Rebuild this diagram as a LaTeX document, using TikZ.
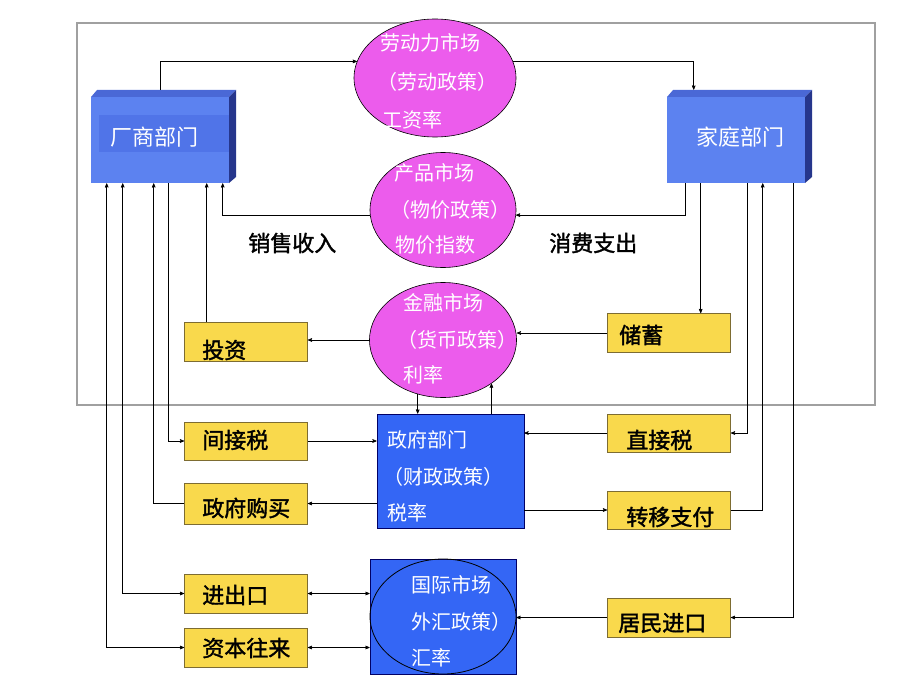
\documentclass[tikz,border=0pt]{standalone}
\usepackage{fontspec}
\newfontfamily\cjk{Noto Sans CJK SC}
\newfontfamily\cjkb[FakeBold=1.6]{Noto Sans CJK SC}
\usetikzlibrary{calc}
\usetikzlibrary{arrows}
\usetikzlibrary{shapes.geometric}

\definecolor{mktpink}{RGB}{236,92,236}
\definecolor{boxyellow}{RGB}{249,217,76}
\definecolor{boxedge}{RGB}{125,108,50}
\definecolor{govblue}{RGB}{52,102,245}
\definecolor{facblue}{RGB}{92,130,240}
\definecolor{bandblue}{RGB}{80,116,232}
\definecolor{topblue}{RGB}{74,104,214}
\definecolor{sideblue}{RGB}{38,54,140}
\definecolor{framegray}{RGB}{160,160,160}

\begin{document}
\begin{tikzpicture}[x=1pt, y=-1pt, >=stealth', line width=0.6pt,
  market/.style={ellipse, fill=mktpink, draw=black, inner sep=0pt},
  face/.style={fill=facblue, inner sep=0pt},
  gbox/.style={rectangle, fill=govblue, draw=black!60!blue, line width=0.8pt, inner sep=0pt},
  ybox/.style={fill=boxyellow, draw=boxedge, line width=0.8pt, minimum width=123, inner sep=0pt},
  wlabel/.style={anchor=west, text=white, inner sep=0pt, font=\cjk\fontsize{20}{20}\selectfont},
  blabel/.style={anchor=west, text=black, inner sep=0pt, font=\cjkb\fontsize{22}{22}\selectfont}]
\useasboundingbox (0,0) rectangle (920,690);
\draw[framegray, line width=2.5pt] (77,23) rectangle (875,405);

% firms and households
\fill[topblue] (91,97) -- (97,90) -- (236,90) -- (229,97) -- cycle;
\fill[sideblue] (229,97) -- (236,90) -- (236,177) -- (229,183) -- cycle;
\node[face, minimum width=138, minimum height=86] (firm) at (160,140) {};
\fill[bandblue] (99,115) rectangle (229,152);
\node[wlabel, font=\cjk\fontsize{22}{22}\selectfont] (tFirm) at (110,137) {厂商部门};
\fill[topblue] (667,97) -- (673,90) -- (812,90) -- (805,97) -- cycle;
\fill[sideblue] (805,97) -- (812,90) -- (812,177) -- (805,183) -- cycle;
\node[face, minimum width=138, minimum height=86] (home) at (736,140) {};
\node[wlabel, font=\cjk\fontsize{22}{22}\selectfont] (tHome) at (696,137) {家庭部门};

% markets
\node[market, minimum width=162, minimum height=118] (labor) at (435,78) {};
\node[wlabel] (tLabA) at (380,43) {劳动力市场};
\node[wlabel] (tLabB) at (377,82) {（劳动政策）};
\node[wlabel] (tLabC) at (382,120) {工资率};
\node[market, minimum width=146, minimum height=115] (product) at (443,210) {};
\node[wlabel] (tProA) at (394,173) {产品市场};
\node[wlabel] (tProB) at (390,210) {（物价政策）};
\node[wlabel] (tProC) at (395,245) {物价指数};
\node[market, minimum width=147, minimum height=115] (finance) at (443,340) {};
\node[wlabel] (tFinA) at (403,303) {金融市场};
\node[wlabel] (tFinB) at (397,340) {（货币政策）};
\node[wlabel] (tFinC) at (403,375) {利率};

% government and foreign sector
\node[gbox, minimum width=147, minimum height=114] (gov) at (450.5,471) {};
\node[wlabel] (tGovA) at (387,440) {政府部门};
\node[wlabel] (tGovB) at (383,477) {（财政政策）};
\node[wlabel] (tGovC) at (387,513) {税率};
\node[gbox, minimum width=146, minimum height=115] (intl) at (443,616.5) {};
\draw[line width=0.8pt] (intl.center) ellipse (73 and 57.5);
\node[wlabel] (tIntA) at (411,585) {国际市场};
\node[wlabel] (tIntB) at (411,622) {外汇政策）};
\node[wlabel] (tIntC) at (411,658) {汇率};

% flows
\node[ybox, minimum height=39] (touzi) at (246,341.5) {};
\node[ybox, minimum height=39] (chuxu) at (669,333) {};
\node[ybox, minimum height=38] (jianjie) at (246,441) {};
\node[ybox, minimum height=41] (goumai) at (246,503.5) {};
\node[ybox, minimum height=38] (zhijie) at (669,433) {};
\node[ybox, minimum height=38] (zhuanyi) at (669,510) {};
\node[ybox, minimum height=39] (jinchu) at (246,593.5) {};
\node[ybox, minimum height=39] (ziben) at (246,647.5) {};
\node[ybox, minimum height=39] (jumin) at (669,617.5) {};
\node[blabel] (tTouzi) at (202,350) {投资};
\node[blabel] (tChuxu) at (619,335) {储蓄};
\node[blabel] (tJianjie) at (202,440) {间接税};
\node[blabel] (tGoumai) at (202,508) {政府购买};
\node[blabel] (tZhijie) at (626,440) {直接税};
\node[blabel] (tZhuanyi) at (626,517) {转移支付};
\node[blabel] (tJinchu) at (202,595) {进出口};
\node[blabel] (tZiben) at (202,648) {资本往来};
\node[blabel] (tJumin) at (618,623) {居民进口};
\node[blabel] (tSales) at (248,243) {销售收入};
\node[blabel] (tSpend) at (549,243) {消费支出};

% line ends under the two sectors
\coordinate (fTop) at ($(firm.north)+(0,-7)$);
\coordinate (hTop) at ($(home.north west)+(27,-7)$);
\foreach \n/\dx in {1/16, 2/32, 3/63, 4/78, 5/116, 6/132}
  \coordinate (f\n) at ($(firm.south west)+(\dx,0)$);
\foreach \n/\dx in {1/19, 2/34, 3/81, 4/96, 5/127}
  \coordinate (h\n) at ($(home.south west)+(\dx,0)$);

% connectors
\draw[->] (fTop) |- (labor.168);
\draw[->] (labor.12) -| (hTop);
\draw[->] (h1) |- (product.-4);
\draw[->] (product.184) -| (f6);
\draw[->] (h2) -- (h2 |- chuxu.north);
\draw[->] (chuxu.west) -- (chuxu.west -| finance.east);
\draw[->] (finance.west) -- (finance.west -| touzi.east);
\draw[->] (touzi.north -| f5) -- (f5);
\draw[->] (finance.245) -- (finance.245 |- gov.north);
\draw[->] (gov.north -| finance.318) -- (finance.318);
\draw[->] (f4) |- (jianjie.west);
\draw[->] (jianjie.east) -- (jianjie.east -| gov.west);
\draw[->] (gov.west |- goumai.east) -- (goumai.east);
\draw[->] (goumai.west) -| (f3);
\draw[->] (zhijie.west) -- (zhijie.west -| gov.east);
\draw[->] (h3) |- (zhijie.east);
\draw[->] (gov.east |- zhuanyi.west) -- (zhuanyi.west);
\draw[->] (zhuanyi.east) -| (h4);
\draw[<->] (f2) |- (jinchu.west);
\draw[<->] (f1) |- (ziben.west);
\draw[<->] (jinchu.east) -- (jinchu.east -| intl.west);
\draw[<->] (ziben.east) -- (ziben.east -| intl.west);
\draw[->] (h5) |- (jumin.east);
\draw[->] (jumin.west) -- (jumin.west -| intl.east);
\end{tikzpicture}
\end{document}
